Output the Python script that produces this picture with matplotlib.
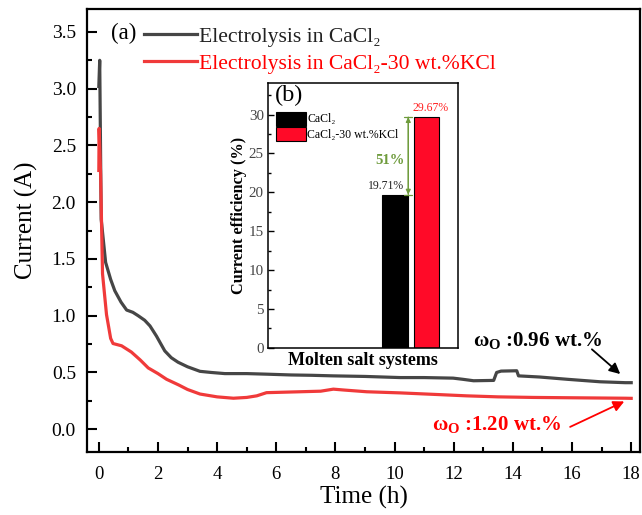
import matplotlib
matplotlib.use("Agg")
import matplotlib.pyplot as plt
from matplotlib.ticker import MultipleLocator

plt.rcParams["font.family"] = ["Liberation Serif", "DejaVu Serif"]
plt.rcParams["mathtext.fontset"] = "custom"
plt.rcParams["mathtext.rm"] = "Liberation Serif:bold"
plt.rcParams["mathtext.it"] = "Liberation Serif:bold"
plt.rcParams["mathtext.bf"] = "Liberation Serif:bold"

# (a) ток электролиза, А
t_cacl2 = [0.0, 0.03, 0.08, 0.23, 0.4, 0.54, 0.75, 0.94, 1.15, 1.33, 1.55, 1.73,
           1.95, 2.1, 2.23, 2.45, 2.68, 3.0, 3.42, 3.8, 4.26, 5.0, 5.67, 6.5,
           7.2, 7.93, 9.0, 10.19, 11.0, 11.98, 12.3, 12.67, 13.35, 13.45, 13.6,
           14.13, 14.19, 14.9, 15.83, 16.95, 17.8, 18.0]
i_cacl2 = [3.02, 3.25, 1.85, 1.47, 1.32, 1.22, 1.12, 1.05, 1.03, 1.0, 0.96, 0.91,
           0.82, 0.75, 0.69, 0.63, 0.59, 0.55, 0.51, 0.50, 0.49, 0.49, 0.485, 0.478,
           0.475, 0.47, 0.465, 0.455, 0.455, 0.45, 0.44, 0.427, 0.43, 0.50, 0.512,
           0.515, 0.47, 0.46, 0.44, 0.418, 0.41, 0.41]

t_kcl = [0.0, 0.01, 0.06, 0.09, 0.125, 0.26, 0.4, 0.48, 0.77, 1.1, 1.4, 1.67,
         2.0, 2.29, 2.7, 3.0, 3.42, 4.0, 4.55, 5.0, 5.34, 5.67, 6.8, 7.5, 7.93,
         8.3, 9.06, 10.19, 11.5, 12.44, 13.5, 14.7, 16.0, 17.8, 18.0]
i_kcl = [2.28, 2.65, 2.25, 1.84, 1.37, 1.01, 0.8, 0.755, 0.735, 0.68, 0.61, 0.54,
         0.49, 0.44, 0.39, 0.35, 0.31, 0.285, 0.273, 0.28, 0.294, 0.322, 0.33, 0.335,
         0.353, 0.345, 0.33, 0.32, 0.305, 0.294, 0.285, 0.28, 0.277, 0.273, 0.272]

# (b) выход по току, %
bar_x = [0, 1]
bar_eff = [19.71, 29.67]
bar_labels = ["CaCl\u2082", "CaCl\u2082-30 wt.%KCl"]
bar_colors = ["#000000", "#FF0A28"]

GRAY = "#464646"
RED = "#F03A3A"
GREEN = "#6E9B3C"

fig = plt.figure(figsize=(6.42, 5.15), dpi=100)
ax = fig.add_axes([0.1355, 0.1225, 0.8615, 0.8595])

ax.plot(t_cacl2, i_cacl2, color=GRAY, lw=2.3, label="Electrolysis in CaCl\u2082")
ax.plot(t_kcl, i_kcl, color=RED, lw=2.3, label="Electrolysis in CaCl\u2082-30 wt.%KCl")

ax.set_xlim(-0.4, 18.3)
ax.set_ylim(-0.2, 3.7)
ax.xaxis.set_major_locator(MultipleLocator(2))
ax.xaxis.set_minor_locator(MultipleLocator(1))
ax.yaxis.set_major_locator(MultipleLocator(0.5))
ax.yaxis.set_minor_locator(MultipleLocator(0.25))
ax.yaxis.set_major_formatter(plt.FormatStrFormatter("%.1f"))
ax.tick_params(which="both", direction="in", width=1.5)
ax.tick_params(which="major", length=7)
ax.tick_params(which="minor", length=3.5)
ax.tick_params(axis="x", labelsize=13.5, pad=10.5)
ax.tick_params(axis="y", labelsize=14, pad=8)
for sp in ax.spines.values():
    sp.set_linewidth(1.6)
ax.set_xlabel("Time (h)", fontsize=18, labelpad=2)
ax.set_ylabel("Current (A)", fontsize=18)
ax.yaxis.set_label_coords(-0.089, 0.524)

leg = ax.legend(loc="upper left", bbox_to_anchor=(0.072, 1.0), frameon=False,
                fontsize=15.6, handlelength=2.45, handletextpad=0.1,
                labelspacing=0.32, borderpad=0.3)
for txt, c in zip(leg.get_texts(), ["#222222", "#FF0000"]):
    txt.set_color(c)
ax.text(0.0434, 0.945, "(a)", transform=ax.transAxes, fontsize=16.5,
        ha="left", va="center")

ax.text(14.85, 0.78, r"$\omega_\mathrm{O}$ :0.96 wt.%", fontsize=15, fontweight="bold",
        color="black", ha="center", va="center", math_fontfamily="custom")
ax.text(13.45, 0.045, r"$\omega_\mathrm{O}$ :1.20 wt.%", fontsize=15, fontweight="bold",
        color="#FF0000", ha="center", va="center", math_fontfamily="custom")
ax.annotate("", xy=(17.7, 0.47), xytext=(16.6, 0.72),
            arrowprops=dict(arrowstyle="-|>", color="black", lw=1.3, mutation_scale=16))
ax.annotate("", xy=(17.85, 0.255), xytext=(15.85, 0.01),
            arrowprops=dict(arrowstyle="-|>", color="#FF0000", lw=1.3, mutation_scale=16))

# inset (b)
ins = fig.add_axes([0.4175, 0.3245, 0.296, 0.5135])
ins.bar(bar_x, bar_eff, width=0.82, color=bar_colors, edgecolor="black", lw=0.8,
        label=bar_labels)
ins.set_xlim(-4.03, 2.0)
ins.set_ylim(0, 34)
ins.set_xticks([])
ins.yaxis.set_major_locator(MultipleLocator(5))
ins.yaxis.set_minor_locator(MultipleLocator(2.5))
ins.tick_params(which="both", direction="in", width=1, labelsize=10.8,
                labelcolor="#444444", pad=3)
ins.tick_params(which="major", length=4)
ins.tick_params(which="minor", length=2)
for sp in ins.spines.values():
    sp.set_linewidth(1.1)
ins.set_ylabel("Current efficiency (%)", fontsize=11.7, fontweight="bold", labelpad=1)
ins.set_xlabel("Molten salt systems", fontsize=13, fontweight="bold", labelpad=3)
ins.text(0.037, 0.955, "(b)", transform=ins.transAxes, fontsize=17.5,
         ha="left", va="center")

ins.legend(loc="upper left", bbox_to_anchor=(0.0, 0.925), frameon=False, fontsize=8.5,
           handlelength=2.54, handleheight=1.45, handletextpad=0.1, labelspacing=0.12,
           borderpad=0.2)

ins.text(bar_x[1] + 0.13, bar_eff[1] + 0.4, "29.67%", color="#FF2020", fontsize=8.5,
         ha="center", va="bottom")
ins.text(bar_x[0] - 0.3, bar_eff[0] + 0.3, "19.71%", color="#222222", fontsize=8.5,
         ha="center", va="bottom")
ins.annotate("", xy=(0.42, bar_eff[1]), xytext=(0.42, bar_eff[0]),
             arrowprops=dict(arrowstyle="|-|,widthA=0.3,widthB=0.3", color=GREEN, lw=0.9,
                             shrinkA=0, shrinkB=0))
ins.annotate("", xy=(0.42, bar_eff[1]), xytext=(0.42, bar_eff[0]),
             arrowprops=dict(arrowstyle="<|-|>", color=GREEN, lw=0.9, mutation_scale=7,
                             shrinkA=0, shrinkB=0))
ins.text(-0.15, 24.1, "51%", color=GREEN, fontsize=10.5, fontweight="bold",
         ha="center", va="center")

fig.savefig("out.png", dpi=100)
